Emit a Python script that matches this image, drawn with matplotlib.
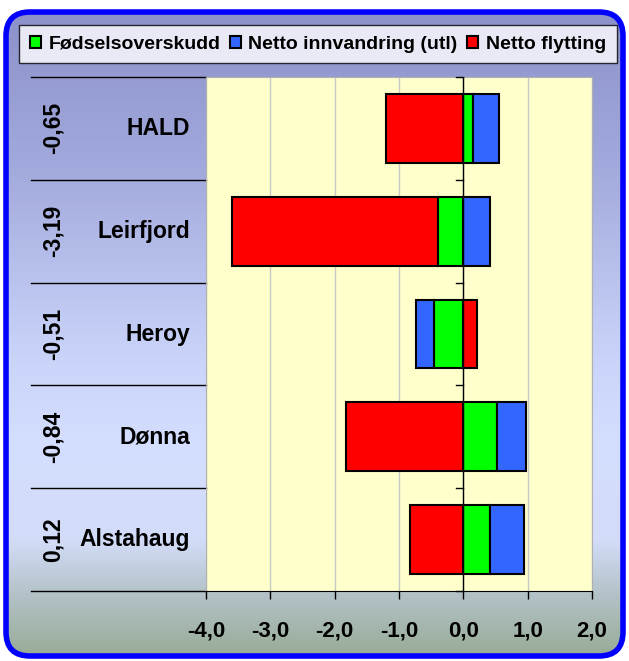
import numpy as np
import matplotlib
matplotlib.use("Agg")
import matplotlib.pyplot as plt
from matplotlib.patches import FancyBboxPatch
from matplotlib.colors import LinearSegmentedColormap
import matplotlib.transforms as mtransforms

plt.rcParams['font.family'] = ['Liberation Sans', 'DejaVu Sans']
plt.rcParams['font.weight'] = 'bold'

# data (top to bottom as shown)
kommuner = ["HALD", "Leirfjord", "Heroy", "Dønna", "Alstahaug"]
totals = ["-0,65", "-3,19", "-0,51", "-0,84", "0,12"]
fodsel = [0.15, -0.40, -0.46, 0.53, 0.42]
innvandring = [0.40, 0.41, -0.27, 0.45, 0.53]
flytting = [-1.20, -3.20, 0.22, -1.82, -0.83]
series_names = ["Fødselsoverskudd", "Netto innvandring (utl)", "Netto flytting"]
series_colors = ["#00ff00", "#3366ff", "#ff0000"]
xticks = [-4, -3, -2, -1, 0, 1, 2]

W, H = 629, 661
fig = plt.figure(figsize=(W / 100, H / 100), dpi=100)

# gradient background inside rounded blue frame
bg = fig.add_axes([0, 0, 1, 1])
bg.set_xlim(0, W)
bg.set_ylim(H, 0)
bg.axis("off")
cmap = LinearSegmentedColormap.from_list("bg", [
    (0.0, "#8a90c8"), (0.25, "#a2a9dc"), (0.55, "#cbd5fa"),
    (0.68, "#d4defe"), (0.82, "#d2dcf8"), (0.9, "#b4c2c8"), (1.0, "#96aa92")])
grad = np.linspace(0, 1, 256).reshape(-1, 1)
im = bg.imshow(grad, cmap=cmap, aspect="auto", extent=[0, W, H, 0], zorder=0)
frame = FancyBboxPatch((6, 12), W - 12, H - 17, boxstyle="round,pad=0,rounding_size=24",
                       facecolor="none", edgecolor="#0000ff", linewidth=4, zorder=2)
bg.add_patch(frame)
im.set_clip_path(frame)

ax = fig.add_axes([206 / W, (H - 591) / H, 386 / W, 514 / H])
ax.set_facecolor("#ffffcc")
y = np.arange(len(kommuner))[::-1]

vals = [fodsel, innvandring, flytting]
pos_base = np.zeros(len(kommuner))
neg_base = np.zeros(len(kommuner))
for name, col, v in zip(series_names, series_colors, vals):
    v = np.array(v)
    left = np.where(v >= 0, pos_base, neg_base)
    ax.barh(y, v, left=left, height=0.67, color=col, edgecolor="black",
            linewidth=1.5, label=name, zorder=3)
    pos_base = pos_base + np.where(v >= 0, v, 0)
    neg_base = neg_base + np.where(v < 0, v, 0)

ax.set_xlim(-4, 2)
ax.set_ylim(-0.5, len(kommuner) - 0.5)
ax.set_xticks(xticks)
ax.set_xticklabels([f"{t:.1f}".replace(".", ",") for t in xticks], fontsize=16, fontweight="bold")
ax.tick_params(axis="x", length=6, width=1, color="black", pad=15)
ax.set_yticks([])
ax.grid(axis="x", color="#c8c8c8", linewidth=1, zorder=0)
ax.set_axisbelow(True)
for s in ["top", "right", "left"]:
    ax.spines[s].set_color("#b0b0b0")
ax.spines["bottom"].set_color("black")
ax.axvline(0, color="black", linewidth=1, zorder=4)

# small ticks on the zero axis at category borders
bounds = np.arange(len(kommuner) + 1) - 0.5
for b in bounds:
    ax.plot([-0.12, 0], [b, b], color="black", linewidth=1, zorder=4, clip_on=False)

# category dividers and labels left of the plot
tr = mtransforms.blended_transform_factory(fig.transFigure, ax.transData)
for b in bounds:
    ax.plot([31 / W, 206 / W], [b, b], color="black", linewidth=1, transform=tr, clip_on=False)
for yi, name, tot in zip(y, kommuner, totals):
    ax.text(190 / W, yi, name, transform=tr, ha="right", va="center", fontsize=16.5, fontweight="bold")
    ax.text(53 / W, yi, tot, transform=tr, ha="center", va="center", rotation=90,
            fontsize=16.5, fontweight="bold")

leg = fig.legend(loc="upper center", bbox_to_anchor=(318 / W, 1 - 25 / H), ncol=3,
                 fontsize=14, frameon=True, fancybox=False, edgecolor="black",
                 handlelength=0.55, handleheight=0.55, handletextpad=0.4,
                 columnspacing=0.5, borderpad=0.55, borderaxespad=0)
leg.get_frame().set_linewidth(1)
for t in leg.get_texts():
    t.set_fontweight("bold")

fig.savefig("out.png", dpi=100)
